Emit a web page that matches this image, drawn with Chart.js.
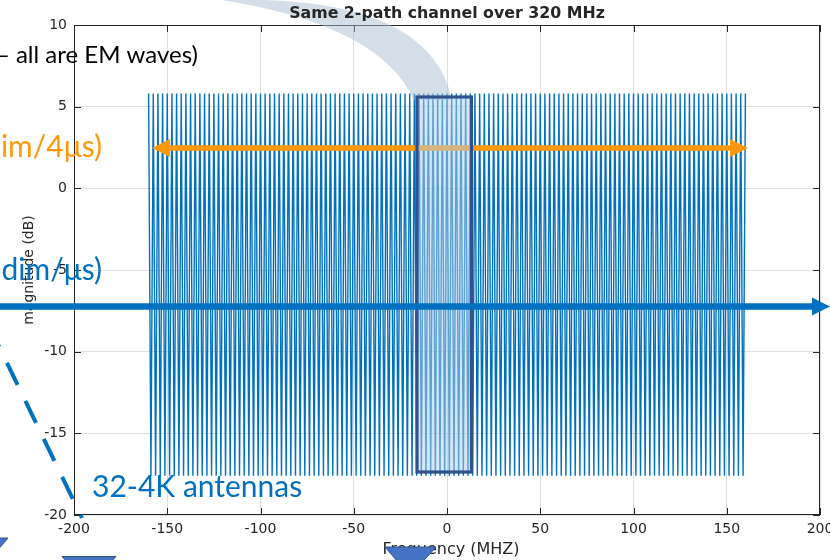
<!DOCTYPE html>
<html><head><meta charset="utf-8">
<script src="https://cdn.jsdelivr.net/npm/chart.js@4.4.1/dist/chart.umd.min.js"></script>
<style>html,body{margin:0;padding:0;background:#fff;overflow:hidden}#wrap{position:relative;width:830px;height:560px}</style>
</head><body><div id="wrap"><canvas id="c" width="830" height="560"></canvas></div>
<script>
// Frequency samples (MHz) and magnitude (dB): peaks and nulls of the 2-path channel
const freqMHz = [
-160,-158.75,-157.5,-156.25,-155,-153.75,-152.5,-151.25,
-150,-148.75,-147.5,-146.25,-145,-143.75,-142.5,-141.25,
-140,-138.75,-137.5,-136.25,-135,-133.75,-132.5,-131.25,
-130,-128.75,-127.5,-126.25,-125,-123.75,-122.5,-121.25,
-120,-118.75,-117.5,-116.25,-115,-113.75,-112.5,-111.25,
-110,-108.75,-107.5,-106.25,-105,-103.75,-102.5,-101.25,
-100,-98.75,-97.5,-96.25,-95,-93.75,-92.5,-91.25,
-90,-88.75,-87.5,-86.25,-85,-83.75,-82.5,-81.25,
-80,-78.75,-77.5,-76.25,-75,-73.75,-72.5,-71.25,
-70,-68.75,-67.5,-66.25,-65,-63.75,-62.5,-61.25,
-60,-58.75,-57.5,-56.25,-55,-53.75,-52.5,-51.25,
-50,-48.75,-47.5,-46.25,-45,-43.75,-42.5,-41.25,
-40,-38.75,-37.5,-36.25,-35,-33.75,-32.5,-31.25,
-30,-28.75,-27.5,-26.25,-25,-23.75,-22.5,-21.25,
-20,-18.75,-17.5,-16.25,-15,-13.75,-12.5,-11.25,
-10,-8.75,-7.5,-6.25,-5,-3.75,-2.5,-1.25,
0,1.25,2.5,3.75,5,6.25,7.5,8.75,
10,11.25,12.5,13.75,15,16.25,17.5,18.75,
20,21.25,22.5,23.75,25,26.25,27.5,28.75,
30,31.25,32.5,33.75,35,36.25,37.5,38.75,
40,41.25,42.5,43.75,45,46.25,47.5,48.75,
50,51.25,52.5,53.75,55,56.25,57.5,58.75,
60,61.25,62.5,63.75,65,66.25,67.5,68.75,
70,71.25,72.5,73.75,75,76.25,77.5,78.75,
80,81.25,82.5,83.75,85,86.25,87.5,88.75,
90,91.25,92.5,93.75,95,96.25,97.5,98.75,
100,101.25,102.5,103.75,105,106.25,107.5,108.75,
110,111.25,112.5,113.75,115,116.25,117.5,118.75,
120,121.25,122.5,123.75,125,126.25,127.5,128.75,
130,131.25,132.5,133.75,135,136.25,137.5,138.75,
140,141.25,142.5,143.75,145,146.25,147.5,148.75,
150,151.25,152.5,153.75,155,156.25,157.5,158.75,
160];
const magDB = [
5.8,-17.6,5.8,-17.6,5.8,-17.6,5.8,-17.6,
5.8,-17.6,5.8,-17.6,5.8,-17.6,5.8,-17.6,
5.8,-17.6,5.8,-17.6,5.8,-17.6,5.8,-17.6,
5.8,-17.6,5.8,-17.6,5.8,-17.6,5.8,-17.6,
5.8,-17.6,5.8,-17.6,5.8,-17.6,5.8,-17.6,
5.8,-17.6,5.8,-17.6,5.8,-17.6,5.8,-17.6,
5.8,-17.6,5.8,-17.6,5.8,-17.6,5.8,-17.6,
5.8,-17.6,5.8,-17.6,5.8,-17.6,5.8,-17.6,
5.8,-17.6,5.8,-17.6,5.8,-17.6,5.8,-17.6,
5.8,-17.6,5.8,-17.6,5.8,-17.6,5.8,-17.6,
5.8,-17.6,5.8,-17.6,5.8,-17.6,5.8,-17.6,
5.8,-17.6,5.8,-17.6,5.8,-17.6,5.8,-17.6,
5.8,-17.6,5.8,-17.6,5.8,-17.6,5.8,-17.6,
5.8,-17.6,5.8,-17.6,5.8,-17.6,5.8,-17.6,
5.8,-17.6,5.8,-17.6,5.8,-17.6,5.8,-17.6,
5.8,-17.6,5.8,-17.6,5.8,-17.6,5.8,-17.6,
5.8,-17.6,5.8,-17.6,5.8,-17.6,5.8,-17.6,
5.8,-17.6,5.8,-17.6,5.8,-17.6,5.8,-17.6,
5.8,-17.6,5.8,-17.6,5.8,-17.6,5.8,-17.6,
5.8,-17.6,5.8,-17.6,5.8,-17.6,5.8,-17.6,
5.8,-17.6,5.8,-17.6,5.8,-17.6,5.8,-17.6,
5.8,-17.6,5.8,-17.6,5.8,-17.6,5.8,-17.6,
5.8,-17.6,5.8,-17.6,5.8,-17.6,5.8,-17.6,
5.8,-17.6,5.8,-17.6,5.8,-17.6,5.8,-17.6,
5.8,-17.6,5.8,-17.6,5.8,-17.6,5.8,-17.6,
5.8,-17.6,5.8,-17.6,5.8,-17.6,5.8,-17.6,
5.8,-17.6,5.8,-17.6,5.8,-17.6,5.8,-17.6,
5.8,-17.6,5.8,-17.6,5.8,-17.6,5.8,-17.6,
5.8,-17.6,5.8,-17.6,5.8,-17.6,5.8,-17.6,
5.8,-17.6,5.8,-17.6,5.8,-17.6,5.8,-17.6,
5.8,-17.6,5.8,-17.6,5.8,-17.6,5.8,-17.6,
5.8,-17.6,5.8,-17.6,5.8,-17.6,5.8,-17.6,
5.8];
const xTicks = [-200,-150,-100,-50,0,50,100,150,200];
const yTicks = [-20,-15,-10,-5,0,5,10];
const titleText = 'Same 2-path channel over 320 MHz';
const xLabel = 'Frequency (MHZ)';
const yLabel = 'magnitude (dB)';
const noteEM = '\u2013 all are EM waves)';
const noteOrange = 'im/4\u03bcs)';
const noteBlue = 'dim/\u03bcs)';
const noteAnt = '32-4K antennas';

const FONT = "'DejaVu Sans', sans-serif";
const AXC = '#262626';
const BLUE = '#0070C0';
const ORANGE = 'rgb(255,152,12)';

function hArrow(ctx, x0, x1, y, th, headL, headH, color, both) {
  ctx.fillStyle = color;
  const s0 = both ? x0 + headL : x0;
  ctx.fillRect(s0, y - th / 2, (x1 - headL) - s0, th);
  ctx.beginPath();
  ctx.moveTo(x1, y); ctx.lineTo(x1 - headL, y - headH / 2); ctx.lineTo(x1 - headL, y + headH / 2); ctx.closePath(); ctx.fill();
  if (both) {
    ctx.beginPath();
    ctx.moveTo(x0, y); ctx.lineTo(x0 + headL, y - headH / 2); ctx.lineTo(x0 + headL, y + headH / 2); ctx.closePath(); ctx.fill();
  }
}
function tri(ctx, pts) {
  ctx.beginPath();
  ctx.moveTo(pts[0][0], pts[0][1]); ctx.lineTo(pts[1][0], pts[1][1]); ctx.lineTo(pts[2][0], pts[2][1]); ctx.closePath();
  ctx.fillStyle = '#4472C4'; ctx.fill();
  ctx.strokeStyle = '#2F528F'; ctx.lineWidth = 1; ctx.stroke();
}

const overlay = {
  id: 'overlay',
  afterDraw(chart) {
    const ctx = chart.ctx, a = chart.chartArea;
    const xs = chart.scales.x, ys = chart.scales.y;
    ctx.save();
    // box and inward ticks (MATLAB style)
    ctx.strokeStyle = AXC; ctx.lineWidth = 1;
    ctx.strokeRect(a.left + 0.5, a.top + 0.5, a.right - a.left - 1, a.bottom - a.top - 1);
    ctx.beginPath();
    xTicks.forEach(v => {
      const px = Math.round(xs.getPixelForValue(v)) + 0.5;
      ctx.moveTo(px, a.bottom); ctx.lineTo(px, a.bottom - 7);
      ctx.moveTo(px, a.top); ctx.lineTo(px, a.top + 7);
    });
    yTicks.forEach(v => {
      const py = Math.round(ys.getPixelForValue(v)) + 0.5;
      ctx.moveTo(a.left, py); ctx.lineTo(a.left + 7, py);
      ctx.moveTo(a.right, py); ctx.lineTo(a.right - 7, py);
    });
    ctx.stroke();

    // faint curved band at top
    ctx.beginPath();
    ctx.moveTo(222, 0);
    ctx.quadraticCurveTo(380, 25, 414, 100);
    ctx.lineTo(452, 100);
    ctx.quadraticCurveTo(432, 5, 264, 0);
    ctx.closePath();
    ctx.fillStyle = 'rgba(170,190,210,0.5)';
    ctx.fill();

    // title and axis labels
    ctx.fillStyle = AXC;
    ctx.textAlign = 'center'; ctx.textBaseline = 'alphabetic';
    ctx.font = "bold 15.8px " + FONT;
    ctx.fillText(titleText, (a.left + a.right) / 2, 18);
    ctx.font = "16px " + FONT;
    ctx.fillText(xLabel, 451, 554);
    ctx.font = "14px " + FONT;
    ctx.save();
    ctx.translate(33, 270); ctx.rotate(-Math.PI / 2);
    ctx.fillText(yLabel, 0, 0);
    ctx.restore();

    // orange double arrow
    hArrow(ctx, 152, 748, 148, 5.5, 18, 18, ORANGE, true);

    // highlight rectangle
    ctx.fillStyle = 'rgba(176,206,235,0.51)';
    ctx.fillRect(417, 97, 54.5, 375);
    ctx.strokeStyle = '#2F528F'; ctx.lineWidth = 3.2;
    ctx.strokeRect(417, 97, 54.5, 375);

    // blue arrow
    hArrow(ctx, -5, 830, 306.5, 6.5, 18, 18, BLUE, false);

    // dashed line
    ctx.save();
    ctx.strokeStyle = BLUE; ctx.lineWidth = 4; ctx.lineCap = 'butt';
    ctx.setLineDash([24.4, 17.8]);
    ctx.beginPath(); ctx.moveTo(-11.4, 325); ctx.lineTo(82, 518); ctx.stroke();
    ctx.restore();

    // slide texts
    ctx.textBaseline = 'alphabetic';
    ctx.textAlign = 'right';
    ctx.fillStyle = '#000';
    ctx.font = "24px Lato, sans-serif";
    ctx.fillText(noteEM, 198, 63);
    ctx.fillStyle = ORANGE;
    ctx.font = "30px Lato, sans-serif";
    ctx.fillText(noteOrange, 102, 157);
    ctx.fillStyle = BLUE;
    ctx.fillText(noteBlue, 102, 280);
    ctx.textAlign = 'left';
    ctx.fillText(noteAnt, 92, 497);

    // triangles
    tri(ctx, [[-40, 538], [8, 538], [-16, 566]]);
    tri(ctx, [[62, 556.5], [116, 556.5], [89, 586]]);
    tri(ctx, [[385, 547], [436, 547], [410, 576]]);
    ctx.restore();
  }
};

const chart = new Chart(document.getElementById('c'), {
  type: 'line',
  data: {
    datasets: [{
      data: freqMHz.map((f, i) => ({ x: f, y: magDB[i] })),
      borderColor: '#0072BD',
      borderWidth: 1.4,
      pointRadius: 0,
      fill: false,
      tension: 0
    }]
  },
  options: {
    responsive: false,
    animation: false,
    devicePixelRatio: 1,
    layout: { padding: { top: 25, right: 10, left: 0, bottom: 0 } },
    plugins: { legend: { display: false }, title: { display: false }, tooltip: { enabled: false } },
    scales: {
      x: {
        type: 'linear', min: -200, max: 200,
        afterBuildTicks: s => { s.ticks = xTicks.map(v => ({ value: v })); },
        afterFit: s => { s.height = 45; s.paddingLeft = 0; s.paddingRight = 0; },
        ticks: { font: { family: FONT, size: 14 }, color: AXC, padding: 6, maxRotation: 0, autoSkip: false },
        grid: { color: 'rgba(38,38,38,0.14)', drawTicks: false },
        border: { display: false }
      },
      y: {
        type: 'linear', min: -20, max: 10,
        afterBuildTicks: s => { s.ticks = yTicks.map(v => ({ value: v })); },
        afterFit: s => { s.width = 74; s.paddingTop = 0; s.paddingBottom = 0; },
        ticks: { font: { family: FONT, size: 14 }, color: AXC, padding: 7 },
        grid: { color: 'rgba(38,38,38,0.14)', drawTicks: false },
        border: { display: false }
      }
    }
  },
  plugins: [overlay]
});
</script>
</body></html>
